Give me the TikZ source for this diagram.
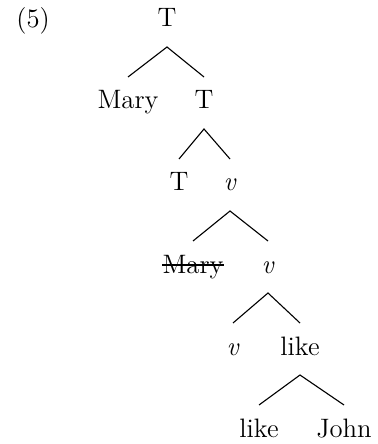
\documentclass[tikz,border=0pt]{standalone}
\usetikzlibrary{calc}

\begin{document}
\begin{tikzpicture}[x=0.45pt, y=-0.45pt,
    every node/.style={font=\fontsize{12}{14}\selectfont, inner sep=0pt, anchor=base}]
    \useasboundingbox (0,0) rectangle (377,444);
    \tikzset{BranchStyle/.style={line width=0.5pt},
      StrikeStyle/.style={line width=0.5pt}}
    \node[anchor=base west] (num) at (16,28) {(5)};
    % nodes, row by row
    \node (TP) at (167,27) {T};
    \node (Mary) at (128,109) {Mary};
    \node (Tbar) at (204,109) {T};
    \node (T) at (179,191) {T};
    \node (vP) at (230,191) {\textit{v}};
    \node (MaryCopy) at (193,273) {Mary};
    \node (vbar) at (268,273) {\textit{v}};
    \node (v) at (233,355) {\textit{v}};
    \node (VP) at (300,355) {like};
    \node (V) at (259,437) {like};
    \node (John) at (344,437) {John};
    % branches
    \draw[BranchStyle] ($(Mary.base) - (0,32)$) -- ($(TP.base) + (0,20)$) -- ($(Tbar.base) - (0,32)$);
    \draw[BranchStyle] ($(T.base) - (0,32)$) -- ($(Tbar.base) + (0,20)$) -- ($(vP.base) - (0,32)$);
    \draw[BranchStyle] ($(MaryCopy.base) - (0,32)$) -- ($(vP.base) + (0,20)$) -- ($(vbar.base) - (0,32)$);
    \draw[BranchStyle] ($(v.base) - (0,32)$) -- ($(vbar.base) + (0,20)$) -- ($(VP.base) - (0,32)$);
    \draw[BranchStyle] ($(V.base) - (0,32)$) -- ($(VP.base) + (0,20)$) -- ($(John.base) - (0,32)$);
    % struck-out copy
    \draw[StrikeStyle] ($(MaryCopy.base west) - (0,8)$) -- ($(MaryCopy.base east) - (0,8)$);
\end{tikzpicture}
\end{document}
